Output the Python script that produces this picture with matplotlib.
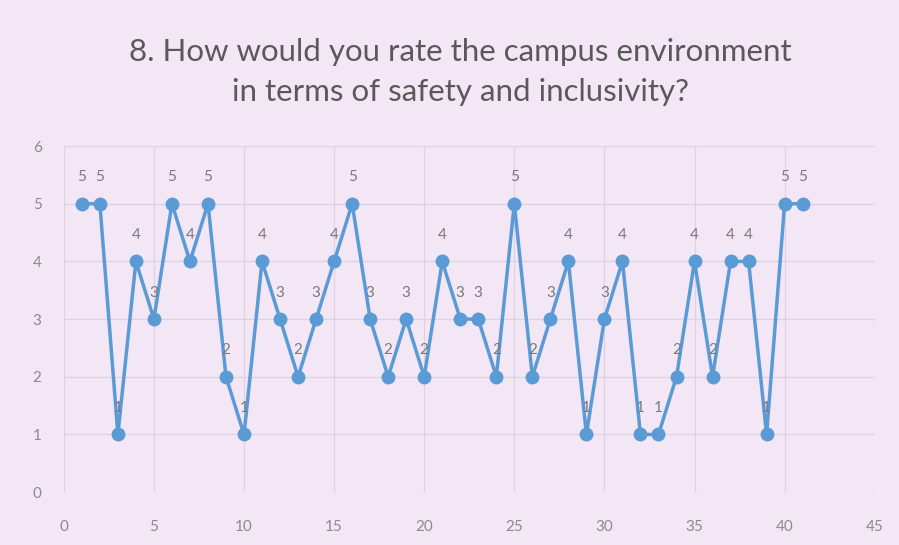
import matplotlib.pyplot as plt
import numpy as np

# responses, one per respondent
respondent = list(range(1, 42))
rating = [5, 5, 1, 4, 3, 5, 4, 5, 2, 1,
          4, 3, 2, 3, 4, 5, 3, 2, 3, 2,
          4, 3, 3, 2, 5, 2, 3, 4, 1, 3,
          4, 1, 1, 2, 4, 2, 4, 4, 1, 5, 5]

title = "8. How would you rate the campus environment\nin terms of safety and inclusivity?"

bg = '#f3e7f5'
blue = '#5b9bd5'
font = 'Lato'

fig = plt.figure(figsize=(8.99, 5.45), dpi=100, facecolor=bg)
ax = fig.add_axes([0.071, 0.097, 0.902, 0.635], facecolor=bg)

ax.plot(respondent, rating, color=blue, lw=2.5, marker='o', ms=9, zorder=3)
for x, y in zip(respondent, rating):
    ax.annotate(str(y), (x, y), xytext=(0, 14), textcoords='offset points',
                ha='center', va='bottom', fontsize=11, color='#7a7a7a',
                family=font)

ax.set_xlim(0, 45)
ax.set_ylim(0, 6)
ax.set_xticks(np.arange(0, 46, 5))
ax.set_yticks(np.arange(0, 7, 1))
ax.grid(True, color='#dcd3e0', lw=0.9)
ax.set_axisbelow(True)
for s in ax.spines.values():
    s.set_visible(False)
ax.tick_params(length=0, labelsize=11, labelcolor='#8a8a8a')
ax.tick_params(axis='x', pad=20)
ax.tick_params(axis='y', pad=16)
for lab in ax.get_xticklabels() + ax.get_yticklabels():
    lab.set_family(font)

fig.text(0.512, 0.868, title, ha='center', va='center', fontsize=22.5,
         color='#595959', family=font, linespacing=1.5)

fig.savefig('out.png', dpi=100, facecolor=bg)
